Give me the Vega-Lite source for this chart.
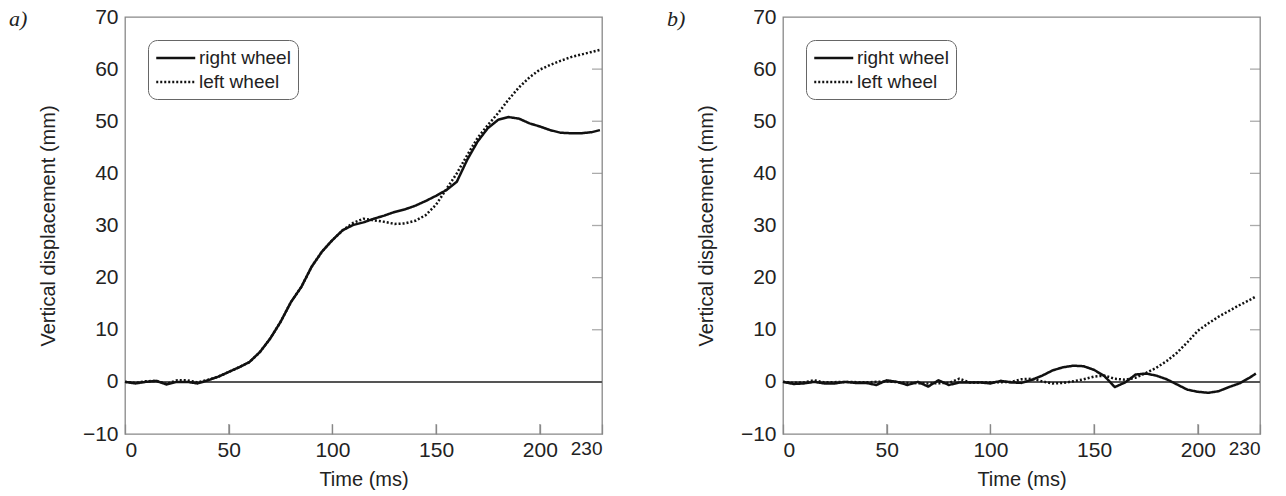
{
  "$schema": "https://vega.github.io/schema/vega-lite/v6.json",
  "background": "white",
  "padding": {"left": 8, "top": 5, "right": 5, "bottom": 5},
  "config": {
    "font": "Liberation Sans",
    "view": {"stroke": "#888", "strokeWidth": 1.3},
    "axis": {"grid": false, "domainColor": "#888", "tickColor": "#888", "tickWidth": 1.3, "labelColor": "#222", "titleColor": "#222", "labelFont": "Liberation Sans", "titleFont": "Liberation Sans", "titleFontWeight": "normal"},
    "legend": {"labelFont": "Liberation Sans"}
  },
  "datasets": {
    "a": [
      {"t": 0, "v": 0, "s": "right wheel"}, {"t": 5, "v": -0.3, "s": "right wheel"}, {"t": 10, "v": 0, "s": "right wheel"}, {"t": 15, "v": 0.2, "s": "right wheel"}, {"t": 20, "v": -0.5, "s": "right wheel"}, {"t": 25, "v": 0, "s": "right wheel"}, {"t": 30, "v": 0, "s": "right wheel"}, {"t": 35, "v": -0.3, "s": "right wheel"}, {"t": 40, "v": 0.3, "s": "right wheel"}, {"t": 45, "v": 1.0, "s": "right wheel"}, {"t": 50, "v": 1.9, "s": "right wheel"}, {"t": 55, "v": 2.8, "s": "right wheel"}, {"t": 60, "v": 3.8, "s": "right wheel"}, {"t": 65, "v": 5.7, "s": "right wheel"}, {"t": 70, "v": 8.3, "s": "right wheel"}, {"t": 75, "v": 11.5, "s": "right wheel"}, {"t": 80, "v": 15.3, "s": "right wheel"}, {"t": 85, "v": 18.2, "s": "right wheel"}, {"t": 90, "v": 22.1, "s": "right wheel"}, {"t": 95, "v": 25.0, "s": "right wheel"}, {"t": 100, "v": 27.2, "s": "right wheel"}, {"t": 105, "v": 29.1, "s": "right wheel"}, {"t": 110, "v": 30.1, "s": "right wheel"}, {"t": 115, "v": 30.6, "s": "right wheel"}, {"t": 120, "v": 31.3, "s": "right wheel"}, {"t": 125, "v": 31.9, "s": "right wheel"}, {"t": 130, "v": 32.6, "s": "right wheel"}, {"t": 135, "v": 33.1, "s": "right wheel"}, {"t": 140, "v": 33.8, "s": "right wheel"}, {"t": 145, "v": 34.7, "s": "right wheel"}, {"t": 150, "v": 35.7, "s": "right wheel"}, {"t": 155, "v": 36.8, "s": "right wheel"}, {"t": 160, "v": 38.4, "s": "right wheel"}, {"t": 165, "v": 42.6, "s": "right wheel"}, {"t": 170, "v": 46.1, "s": "right wheel"}, {"t": 175, "v": 48.7, "s": "right wheel"}, {"t": 180, "v": 50.3, "s": "right wheel"}, {"t": 185, "v": 50.8, "s": "right wheel"}, {"t": 190, "v": 50.5, "s": "right wheel"}, {"t": 195, "v": 49.6, "s": "right wheel"}, {"t": 200, "v": 49.0, "s": "right wheel"}, {"t": 205, "v": 48.3, "s": "right wheel"}, {"t": 210, "v": 47.8, "s": "right wheel"}, {"t": 215, "v": 47.7, "s": "right wheel"}, {"t": 220, "v": 47.7, "s": "right wheel"}, {"t": 225, "v": 47.9, "s": "right wheel"}, {"t": 229, "v": 48.3, "s": "right wheel"},
      {"t": 0, "v": 0, "s": "left wheel"}, {"t": 5, "v": -0.2, "s": "left wheel"}, {"t": 10, "v": 0.1, "s": "left wheel"}, {"t": 15, "v": 0.2, "s": "left wheel"}, {"t": 20, "v": -0.4, "s": "left wheel"}, {"t": 25, "v": 0.3, "s": "left wheel"}, {"t": 30, "v": 0.3, "s": "left wheel"}, {"t": 35, "v": -0.1, "s": "left wheel"}, {"t": 40, "v": 0.4, "s": "left wheel"}, {"t": 45, "v": 1.0, "s": "left wheel"}, {"t": 50, "v": 1.9, "s": "left wheel"}, {"t": 55, "v": 2.8, "s": "left wheel"}, {"t": 60, "v": 3.8, "s": "left wheel"}, {"t": 65, "v": 5.7, "s": "left wheel"}, {"t": 70, "v": 8.3, "s": "left wheel"}, {"t": 75, "v": 11.5, "s": "left wheel"}, {"t": 80, "v": 15.3, "s": "left wheel"}, {"t": 85, "v": 18.2, "s": "left wheel"}, {"t": 90, "v": 22.1, "s": "left wheel"}, {"t": 95, "v": 25.0, "s": "left wheel"}, {"t": 100, "v": 27.2, "s": "left wheel"}, {"t": 105, "v": 29.1, "s": "left wheel"}, {"t": 110, "v": 30.5, "s": "left wheel"}, {"t": 115, "v": 31.3, "s": "left wheel"}, {"t": 120, "v": 31.0, "s": "left wheel"}, {"t": 125, "v": 30.7, "s": "left wheel"}, {"t": 130, "v": 30.3, "s": "left wheel"}, {"t": 135, "v": 30.4, "s": "left wheel"}, {"t": 140, "v": 30.9, "s": "left wheel"}, {"t": 145, "v": 32.0, "s": "left wheel"}, {"t": 150, "v": 34.0, "s": "left wheel"}, {"t": 155, "v": 37.0, "s": "left wheel"}, {"t": 160, "v": 40.0, "s": "left wheel"}, {"t": 165, "v": 43.5, "s": "left wheel"}, {"t": 170, "v": 46.8, "s": "left wheel"}, {"t": 175, "v": 49.3, "s": "left wheel"}, {"t": 180, "v": 51.6, "s": "left wheel"}, {"t": 185, "v": 54.2, "s": "left wheel"}, {"t": 190, "v": 56.5, "s": "left wheel"}, {"t": 195, "v": 58.4, "s": "left wheel"}, {"t": 200, "v": 59.9, "s": "left wheel"}, {"t": 205, "v": 60.8, "s": "left wheel"}, {"t": 210, "v": 61.6, "s": "left wheel"}, {"t": 215, "v": 62.3, "s": "left wheel"}, {"t": 220, "v": 62.8, "s": "left wheel"}, {"t": 225, "v": 63.3, "s": "left wheel"}, {"t": 229, "v": 63.7, "s": "left wheel"}
    ],
    "b": [
      {"t": 0, "v": 0, "s": "right wheel"}, {"t": 5, "v": -0.4, "s": "right wheel"}, {"t": 10, "v": -0.3, "s": "right wheel"}, {"t": 15, "v": 0, "s": "right wheel"}, {"t": 20, "v": -0.3, "s": "right wheel"}, {"t": 25, "v": -0.3, "s": "right wheel"}, {"t": 30, "v": 0, "s": "right wheel"}, {"t": 35, "v": -0.2, "s": "right wheel"}, {"t": 40, "v": -0.2, "s": "right wheel"}, {"t": 45, "v": -0.6, "s": "right wheel"}, {"t": 50, "v": 0.3, "s": "right wheel"}, {"t": 55, "v": 0, "s": "right wheel"}, {"t": 60, "v": -0.6, "s": "right wheel"}, {"t": 65, "v": 0, "s": "right wheel"}, {"t": 70, "v": -0.9, "s": "right wheel"}, {"t": 75, "v": 0.3, "s": "right wheel"}, {"t": 80, "v": -0.6, "s": "right wheel"}, {"t": 85, "v": -0.1, "s": "right wheel"}, {"t": 90, "v": -0.1, "s": "right wheel"}, {"t": 95, "v": -0.1, "s": "right wheel"}, {"t": 100, "v": -0.3, "s": "right wheel"}, {"t": 105, "v": 0.2, "s": "right wheel"}, {"t": 110, "v": -0.1, "s": "right wheel"}, {"t": 115, "v": -0.2, "s": "right wheel"}, {"t": 120, "v": 0.4, "s": "right wheel"}, {"t": 125, "v": 1.2, "s": "right wheel"}, {"t": 130, "v": 2.2, "s": "right wheel"}, {"t": 135, "v": 2.8, "s": "right wheel"}, {"t": 140, "v": 3.1, "s": "right wheel"}, {"t": 145, "v": 3.0, "s": "right wheel"}, {"t": 150, "v": 2.3, "s": "right wheel"}, {"t": 155, "v": 1.1, "s": "right wheel"}, {"t": 160, "v": -1.0, "s": "right wheel"}, {"t": 165, "v": -0.1, "s": "right wheel"}, {"t": 170, "v": 1.4, "s": "right wheel"}, {"t": 175, "v": 1.6, "s": "right wheel"}, {"t": 180, "v": 1.2, "s": "right wheel"}, {"t": 185, "v": 0.5, "s": "right wheel"}, {"t": 190, "v": -0.5, "s": "right wheel"}, {"t": 195, "v": -1.5, "s": "right wheel"}, {"t": 200, "v": -1.9, "s": "right wheel"}, {"t": 205, "v": -2.1, "s": "right wheel"}, {"t": 210, "v": -1.8, "s": "right wheel"}, {"t": 215, "v": -1.0, "s": "right wheel"}, {"t": 220, "v": -0.3, "s": "right wheel"}, {"t": 225, "v": 0.8, "s": "right wheel"}, {"t": 228, "v": 1.6, "s": "right wheel"},
      {"t": 0, "v": 0, "s": "left wheel"}, {"t": 5, "v": -0.2, "s": "left wheel"}, {"t": 10, "v": -0.1, "s": "left wheel"}, {"t": 15, "v": 0.3, "s": "left wheel"}, {"t": 20, "v": -0.1, "s": "left wheel"}, {"t": 30, "v": 0, "s": "left wheel"}, {"t": 40, "v": -0.1, "s": "left wheel"}, {"t": 50, "v": 0.1, "s": "left wheel"}, {"t": 60, "v": -0.2, "s": "left wheel"}, {"t": 70, "v": -0.3, "s": "left wheel"}, {"t": 80, "v": -0.2, "s": "left wheel"}, {"t": 85, "v": 0.6, "s": "left wheel"}, {"t": 90, "v": -0.1, "s": "left wheel"}, {"t": 100, "v": -0.1, "s": "left wheel"}, {"t": 110, "v": 0, "s": "left wheel"}, {"t": 115, "v": 0.5, "s": "left wheel"}, {"t": 120, "v": 0.6, "s": "left wheel"}, {"t": 125, "v": 0.1, "s": "left wheel"}, {"t": 130, "v": -0.3, "s": "left wheel"}, {"t": 135, "v": -0.2, "s": "left wheel"}, {"t": 140, "v": 0.1, "s": "left wheel"}, {"t": 145, "v": 0.5, "s": "left wheel"}, {"t": 150, "v": 1.0, "s": "left wheel"}, {"t": 155, "v": 1.2, "s": "left wheel"}, {"t": 160, "v": 0.6, "s": "left wheel"}, {"t": 165, "v": 0.4, "s": "left wheel"}, {"t": 170, "v": 0.8, "s": "left wheel"}, {"t": 175, "v": 1.7, "s": "left wheel"}, {"t": 180, "v": 2.7, "s": "left wheel"}, {"t": 185, "v": 4.0, "s": "left wheel"}, {"t": 190, "v": 5.6, "s": "left wheel"}, {"t": 195, "v": 7.6, "s": "left wheel"}, {"t": 200, "v": 9.8, "s": "left wheel"}, {"t": 205, "v": 11.2, "s": "left wheel"}, {"t": 210, "v": 12.5, "s": "left wheel"}, {"t": 215, "v": 13.6, "s": "left wheel"}, {"t": 220, "v": 14.7, "s": "left wheel"}, {"t": 225, "v": 15.7, "s": "left wheel"}, {"t": 228, "v": 16.4, "s": "left wheel"}
    ],
    "rticks": [{"y": 10}, {"y": 20}, {"y": 30}, {"y": 40}, {"y": 50}, {"y": 60}],
    "bticks": [{"x": 50}, {"x": 100}, {"x": 150}, {"x": 200}]
  },
  "hconcat": [
    {
      "width": 477, "height": 417,
      "title": {"text": "a)", "anchor": "start", "frame": "group", "dx": -116, "dy": 3, "font": "Liberation Serif", "fontStyle": "italic", "fontWeight": "normal", "fontSize": 22, "color": "#222", "offset": -22},
      "layer": [
        {"data": {"name": "rticks"}, "mark": {"type": "tick", "orient": "horizontal", "size": 10, "thickness": 1.3, "color": "#888", "xOffset": -5}, "encoding": {"y": {"field": "y", "type": "quantitative"}, "x": {"datum": 230, "type": "quantitative"}}},
        {"data": {"name": "bticks"}, "mark": {"type": "tick", "orient": "vertical", "size": 10, "thickness": 1.3, "color": "#888", "yOffset": -5}, "encoding": {"x": {"field": "x", "type": "quantitative"}, "y": {"datum": -10, "type": "quantitative"}}},
        {"data": {"name": "a"}, "mark": {"type": "rule", "color": "#555", "strokeWidth": 1}, "encoding": {"y": {"datum": 0, "type": "quantitative"}}},
        {
          "data": {"name": "a"},
          "mark": {"type": "line", "color": "#111", "strokeWidth": 2.5, "strokeJoin": "round"},
          "encoding": {
            "x": {"field": "t", "type": "quantitative", "scale": {"domain": [0, 230], "nice": false, "zero": false}, "axis": {"title": "Time (ms)", "values": [0, 50, 100, 150, 200, 230], "tickSize": -10, "labelPadding": 15, "labelFontSize": {"condition": {"test": "datum.value == 230", "value": 19}, "value": 21}, "titleFontSize": 20, "titlePadding": 9, "domain": false}},
            "y": {"field": "v", "type": "quantitative", "scale": {"domain": [-10, 70], "nice": false}, "axis": {"title": "Vertical displacement (mm)", "values": [-10, 0, 10, 20, 30, 40, 50, 60, 70], "ticks": false, "labelPadding": 7, "labelFontSize": 21, "titleFontSize": 20, "titlePadding": 24, "domain": false}},
            "strokeDash": {"field": "s", "type": "nominal", "scale": {"domain": ["right wheel", "left wheel"], "range": [[1, 0], [2, 2]]}, "legend": {"title": null, "orient": "none", "legendX": 23, "legendY": 23, "strokeColor": "#666", "cornerRadius": 9, "fillColor": "white", "padding": 7, "symbolType": "M-1,0H3", "symbolSize": 380, "symbolStrokeWidth": 2.5, "symbolStrokeColor": "#111", "labelFontSize": 19, "labelColor": "#222", "labelOffset": 22, "rowPadding": 3}},
            "order": {"field": "t", "type": "quantitative"}
          }
        }
      ]
    },
    {
      "width": 477, "height": 417,
      "title": {"text": "b)", "anchor": "start", "frame": "group", "dx": -116, "dy": 3, "font": "Liberation Serif", "fontStyle": "italic", "fontWeight": "normal", "fontSize": 22, "color": "#222", "offset": -22},
      "layer": [
        {"data": {"name": "rticks"}, "mark": {"type": "tick", "orient": "horizontal", "size": 10, "thickness": 1.3, "color": "#888", "xOffset": -5}, "encoding": {"y": {"field": "y", "type": "quantitative"}, "x": {"datum": 230, "type": "quantitative"}}},
        {"data": {"name": "bticks"}, "mark": {"type": "tick", "orient": "vertical", "size": 10, "thickness": 1.3, "color": "#888", "yOffset": -5}, "encoding": {"x": {"field": "x", "type": "quantitative"}, "y": {"datum": -10, "type": "quantitative"}}},
        {"data": {"name": "b"}, "mark": {"type": "rule", "color": "#555", "strokeWidth": 1}, "encoding": {"y": {"datum": 0, "type": "quantitative"}}},
        {
          "data": {"name": "b"},
          "mark": {"type": "line", "color": "#111", "strokeWidth": 2.5, "strokeJoin": "round"},
          "encoding": {
            "x": {"field": "t", "type": "quantitative", "scale": {"domain": [0, 230], "nice": false, "zero": false}, "axis": {"title": "Time (ms)", "values": [0, 50, 100, 150, 200, 230], "tickSize": -10, "labelPadding": 15, "labelFontSize": {"condition": {"test": "datum.value == 230", "value": 19}, "value": 21}, "titleFontSize": 20, "titlePadding": 9, "domain": false}},
            "y": {"field": "v", "type": "quantitative", "scale": {"domain": [-10, 70], "nice": false}, "axis": {"title": "Vertical displacement (mm)", "values": [-10, 0, 10, 20, 30, 40, 50, 60, 70], "ticks": false, "labelPadding": 7, "labelFontSize": 21, "titleFontSize": 20, "titlePadding": 24, "domain": false}},
            "strokeDash": {"field": "s", "type": "nominal", "scale": {"domain": ["right wheel", "left wheel"], "range": [[1, 0], [2, 2]]}, "legend": {"title": null, "orient": "none", "legendX": 23, "legendY": 23, "strokeColor": "#666", "cornerRadius": 9, "fillColor": "white", "padding": 7, "symbolType": "M-1,0H3", "symbolSize": 380, "symbolStrokeWidth": 2.5, "symbolStrokeColor": "#111", "labelFontSize": 19, "labelColor": "#222", "labelOffset": 22, "rowPadding": 3}},
            "order": {"field": "t", "type": "quantitative"}
          }
        }
      ]
    }
  ],
  "spacing": 62,
  "resolve": {"scale": {"strokeDash": "independent"}, "legend": {"strokeDash": "independent"}}
}
